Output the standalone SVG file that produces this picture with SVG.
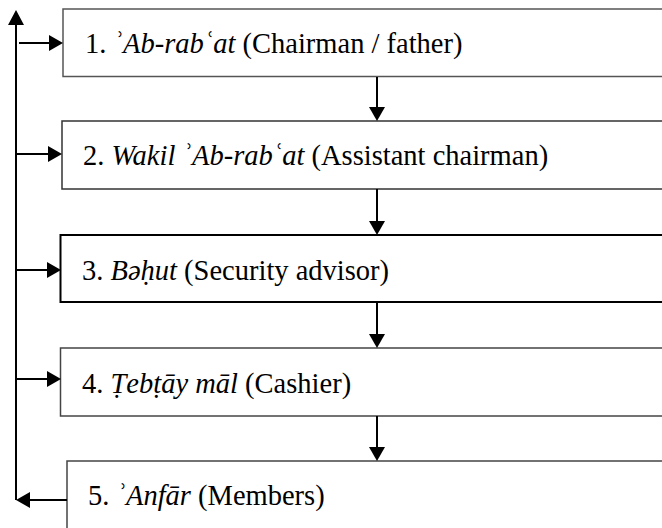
<svg xmlns="http://www.w3.org/2000/svg" width="662" height="528" viewBox="0 0 662 528">
<g id="node1"><rect x="63" y="9" width="610" height="67.5" fill="#fff" stroke="#555" stroke-width="1.5"/><text x="85" y="53" font-size="28.5" font-family="Liberation Serif">1. <tspan font-style="italic">ʾAb-rabʿat</tspan> (Chairman / father)</text></g>
<g id="node2"><rect x="62" y="121" width="610" height="68" fill="#fff" stroke="#333" stroke-width="1.5"/><text x="83" y="165" font-size="28.5" font-family="Liberation Serif">2. <tspan font-style="italic">Wakil ʾAb-rabʿat</tspan> (Assistant chairman)</text></g>
<g id="node3"><rect x="60.5" y="235" width="612" height="67" fill="#fff" stroke="#000" stroke-width="2"/><text x="82" y="280" font-size="28.5" font-family="Liberation Serif">3. <tspan font-style="italic">Bəḥut</tspan> (Security advisor)</text></g>
<g id="node4"><rect x="60.5" y="348" width="612" height="68" fill="#fff" stroke="#444" stroke-width="1.5"/><text x="82" y="393" font-size="28.5" font-family="Liberation Serif">4. <tspan font-style="italic">Ṭebṭāy māl</tspan> (Cashier)</text></g>
<g id="node5"><rect x="67" y="461" width="606" height="80" fill="#fff" stroke="#444" stroke-width="1.5"/><text x="88" y="505" font-size="28.5" font-family="Liberation Serif">5. <tspan font-style="italic">ʾAnfār</tspan> (Members)</text></g>
<g id="connectors">
<g fill="none" stroke="#000" stroke-width="2">
<path d="M16,500 L16,24"/>
<path d="M19,43 L49,43"/>
<path d="M16,154 L48,154"/>
<path d="M16,270 L47,270"/>
<path d="M16,379 L47,379"/>
<path d="M67,500 L30,500"/>
<path d="M377,77 L377,107"/>
<path d="M377,189 L377,221"/>
<path d="M377,302 L377,334"/>
<path d="M377,416 L377,447"/>
</g>
<g fill="#000">
<path d="M16,10 L24,25 L8,25 Z"/>
<path d="M63,43 L49,35 L49,51 Z"/>
<path d="M62,154 L48,146 L48,162 Z"/>
<path d="M61,270 L47,262 L47,278 Z"/>
<path d="M61,379 L47,371 L47,387 Z"/>
<path d="M16,500 L30,492 L30,508 Z"/>
<path d="M377,121 L369,107 L385,107 Z"/>
<path d="M377,235 L369,221 L385,221 Z"/>
<path d="M377,348 L369,334 L385,334 Z"/>
<path d="M377,461 L369,447 L385,447 Z"/>
</g>
</g>
</svg>
